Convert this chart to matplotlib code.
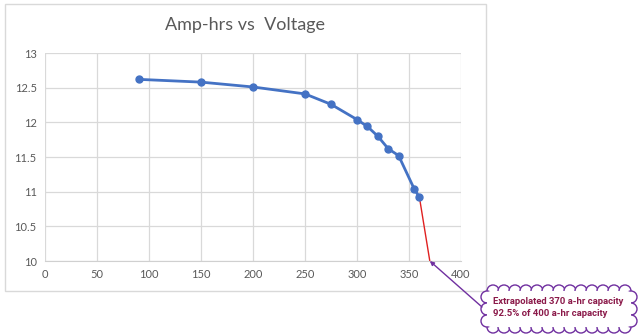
import matplotlib
matplotlib.use("Agg")
import matplotlib.pyplot as plt
from matplotlib.patches import Circle, Rectangle, FancyBboxPatch
import numpy as np

amp_hrs = [90, 150, 200, 250, 275, 300, 310, 320, 330, 340, 355, 360]
voltage = [12.62, 12.58, 12.51, 12.41, 12.26, 12.04, 11.94, 11.80, 11.62, 11.52, 11.04, 10.92]
extrap_x = [360, 370]
extrap_y = [10.92, 10.0]
x_ticks = [0, 50, 100, 150, 200, 250, 300, 350, 400]
y_ticks = [10, 10.5, 11, 11.5, 12, 12.5, 13]
y_tick_labels = ["10", "10.5", "11", "11.5", "12", "12.5", "13"]
title = "Amp-hrs vs  Voltage"
note_lines = ["Extrapolated 370 a-hr capacity", "92.5% of 400 a-hr capacity"]

W, H = 640, 334
fig = plt.figure(figsize=(W / 100, H / 100), dpi=100)
fig.patch.set_facecolor("white")

ov = fig.add_axes([0, 0, 1, 1], zorder=0)
ov.set_xlim(0, W)
ov.set_ylim(H, 0)
ov.axis("off")
ov.add_patch(Rectangle((5, 4), 481, 287, fill=False, edgecolor="#d9d9d9", lw=1))

ax = fig.add_axes([45 / W, 1 - 261 / H, (461 - 45) / W, (261 - 53) / H], zorder=1)
ax.patch.set_alpha(0)
ax.set_xlim(0, 400)
ax.set_ylim(10, 13)
ax.set_xticks(x_ticks)
ax.set_xticklabels([str(v) for v in x_ticks])
ax.set_yticks(y_ticks)
ax.set_yticklabels(y_tick_labels)
ax.grid(True, color="#d9d9d9", lw=0.9)
ax.set_axisbelow(True)
for s in ["top", "right", "left"]:
    ax.spines[s].set_visible(False)
ax.spines["bottom"].set_color("#d0d0d0")
ax.tick_params(length=0, labelsize=8, labelcolor="#595959", pad=6)
for lab in ax.get_xticklabels() + ax.get_yticklabels():
    lab.set_family("Lato")

ax.plot(amp_hrs, voltage, color="#4472C4", lw=2, marker="o", ms=5, zorder=3)
ax.plot(extrap_x, extrap_y, color="#e02020", lw=1, zorder=2)

ax.annotate("", xy=(extrap_x[1], extrap_y[1]), xycoords="data",
            xytext=(482, H - 307), textcoords="figure pixels",
            arrowprops=dict(arrowstyle="-|>", color="#7030A0", lw=1,
                            mutation_scale=6, shrinkA=0, shrinkB=0),
            annotation_clip=False)

fig.text(245 / W, 1 - 25 / H, title, ha="center", va="center",
         fontsize=13, color="#595959", family="Lato")

# cloud callout
cx0, cx1, cy0, cy1 = 487, 631, 291, 327
r = 6
purple = "#7030A0"
xs = np.linspace(cx0 + r, cx1 - r, 13)
ys = np.linspace(cy0 + r, cy1 - r, 3)
pts = [(x, cy0) for x in xs] + [(x, cy1) for x in xs] + \
      [(cx0, y) for y in ys] + [(cx1, y) for y in ys]
for (px, py) in pts:
    ov.add_patch(Circle((px, py), r, facecolor="white", edgecolor=purple, lw=1, zorder=5))
ov.add_patch(FancyBboxPatch((cx0, cy0), cx1 - cx0, cy1 - cy0,
                            boxstyle="round,pad=0,rounding_size=4",
                            facecolor="white", edgecolor="none", zorder=6))
for i, line in enumerate(note_lines):
    ov.text(493, 302 + 12 * i, line, ha="left", va="center",
            fontsize=6.8, fontweight="bold", color="#8B1A4A",
            family="Roboto", fontstretch="condensed", zorder=7)

fig.savefig("out.png", dpi=100)
